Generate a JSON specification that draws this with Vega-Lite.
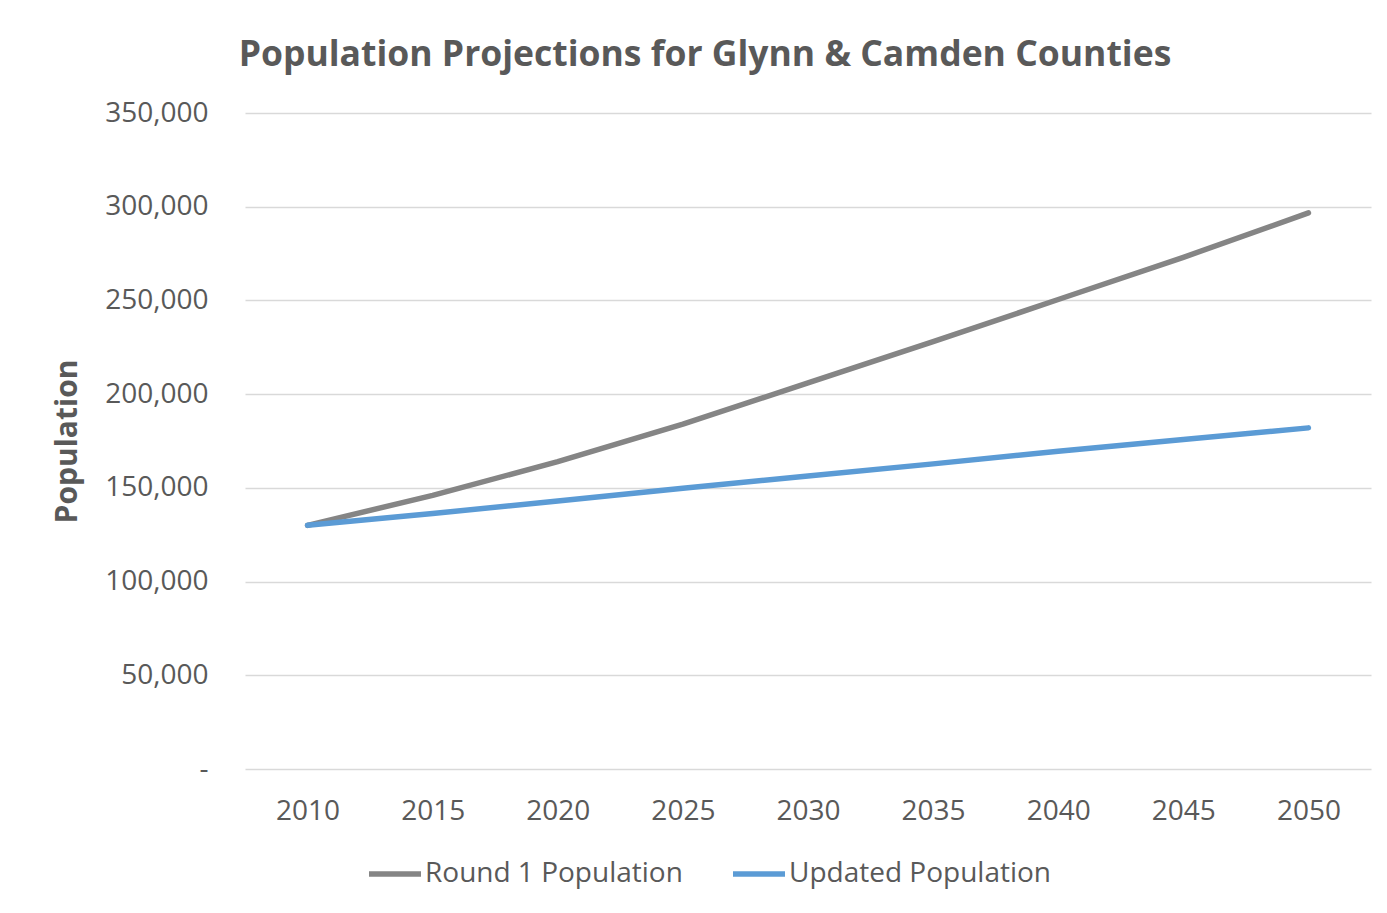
{
  "$schema": "https://vega.github.io/schema/vega-lite/v6.json",
  "autosize": "none",
  "width": 1126,
  "height": 656,
  "padding": {"left": 245, "top": 113, "right": 16, "bottom": 144},
  "background": "white",
  "title": {
    "text": "Population Projections for Glynn & Camden Counties",
    "font": "Open Sans",
    "fontSize": 35.5,
    "fontWeight": "bold",
    "color": "#595959",
    "anchor": "middle",
    "baseline": "alphabetic",
    "offset": 48,
    "dx": -103,
    "dy": 50
  },
  "data": {
    "values": [
      {"year": "2010", "series": "Round 1 Population", "population": 130000},
      {"year": "2015", "series": "Round 1 Population", "population": 146000},
      {"year": "2020", "series": "Round 1 Population", "population": 164000},
      {"year": "2025", "series": "Round 1 Population", "population": 184000},
      {"year": "2030", "series": "Round 1 Population", "population": 206000},
      {"year": "2035", "series": "Round 1 Population", "population": 228000},
      {"year": "2040", "series": "Round 1 Population", "population": 250500},
      {"year": "2045", "series": "Round 1 Population", "population": 273000},
      {"year": "2050", "series": "Round 1 Population", "population": 296700},
      {"year": "2010", "series": "Updated Population", "population": 130000},
      {"year": "2015", "series": "Updated Population", "population": 136300},
      {"year": "2020", "series": "Updated Population", "population": 143000},
      {"year": "2025", "series": "Updated Population", "population": 149800},
      {"year": "2030", "series": "Updated Population", "population": 156300},
      {"year": "2035", "series": "Updated Population", "population": 162800},
      {"year": "2040", "series": "Updated Population", "population": 169500},
      {"year": "2045", "series": "Updated Population", "population": 175800},
      {"year": "2050", "series": "Updated Population", "population": 182000}
    ]
  },
  "mark": {"type": "line", "strokeWidth": 5.5, "strokeCap": "round", "strokeJoin": "round"},
  "encoding": {
    "x": {
      "field": "year",
      "type": "ordinal",
      "scale": {"type": "point", "padding": 0.5},
      "axis": {
        "title": null,
        "labelAngle": 0,
        "ticks": false,
        "domain": false,
        "grid": false,
        "labelPadding": 28,
        "labelFont": "Open Sans",
        "labelFontSize": 28,
        "labelColor": "#595959"
      }
    },
    "y": {
      "field": "population",
      "type": "quantitative",
      "scale": {"domain": [0, 350000], "nice": false},
      "axis": {
        "title": "Population",
        "values": [0, 50000, 100000, 150000, 200000, 250000, 300000, 350000],
        "labelExpr": "datum.value == 0 ? '-' : format(datum.value, ',')",
        "ticks": false,
        "domain": false,
        "grid": true,
        "gridColor": "#d9d9d9",
        "gridWidth": 1.5,
        "labelPadding": 37,
        "labelFont": "Open Sans",
        "labelFontSize": 28,
        "labelColor": "#595959",
        "titleFont": "Open Sans",
        "titleFontSize": 30,
        "titleFontWeight": "bold",
        "titleColor": "#595959",
        "titlePadding": 22
      }
    },
    "color": {
      "field": "series",
      "type": "nominal",
      "scale": {
        "domain": ["Round 1 Population", "Updated Population"],
        "range": ["#858585", "#5b9bd5"]
      },
      "legend": {
        "title": null,
        "orient": "none",
        "direction": "horizontal",
        "legendX": 121,
        "legendY": 732,
        "padding": 0,
        "symbolType": "stroke",
        "symbolSize": 2704,
        "symbolStrokeWidth": 5.5,
        "labelOffset": 1,
        "columnPadding": 39,
        "labelFont": "Open Sans",
        "labelFontSize": 28,
        "labelColor": "#595959",
        "labelLimit": 400
      }
    }
  },
  "config": {
    "view": {"stroke": null}
  }
}
